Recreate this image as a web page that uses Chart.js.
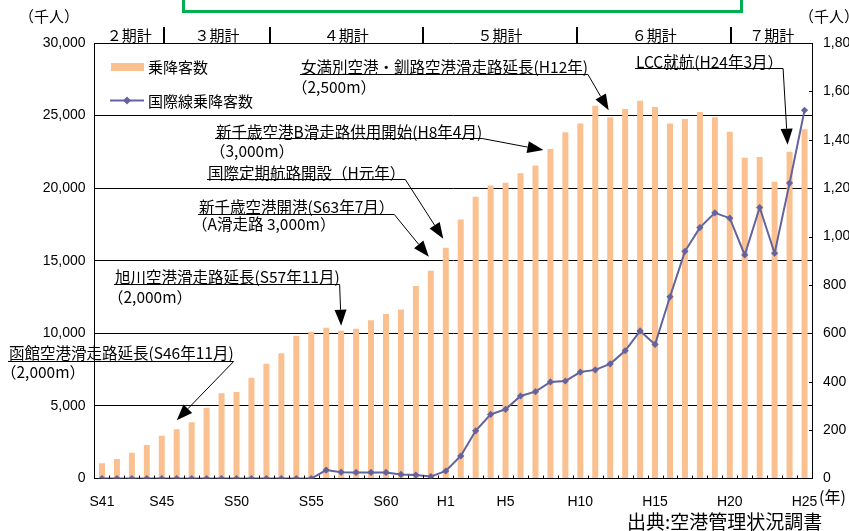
<!DOCTYPE html>
<html>
<head>
<meta charset="utf-8">
<script src="https://cdn.jsdelivr.net/npm/chart.js@4/dist/chart.umd.min.js"></script>
<style>
  html, body { margin: 0; padding: 0; background: #fff; overflow: hidden; }
  canvas { display: block; }
</style>
</head>
<body>
<canvas id="chart" width="849" height="531"></canvas>
<script>
// Fiscal years, Showa 41 (1966) to Heisei 25 (2013)
const years = [
  'S41','S42','S43','S44','S45','S46','S47','S48','S49','S50',
  'S51','S52','S53','S54','S55','S56','S57','S58','S59','S60',
  'S61','S62','S63',
  'H1','H2','H3','H4','H5','H6','H7','H8','H9','H10',
  'H11','H12','H13','H14','H15','H16','H17','H18','H19','H20',
  'H21','H22','H23','H24','H25'
];

// Year labels printed under the axis
const shownYears = ['S41','S45','S50','S55','S60','H1','H5','H10','H15','H20','H25'];

// Total passengers (thousand people), left axis
const passengers = [
  1050, 1340, 1780, 2310, 2950, 3390, 3870, 4880, 5870, 5960,
  6940, 7910, 8620, 9830, 10110, 10390, 10180, 10320, 10900, 11330,
  11650, 13260, 14310,
  15900, 17850, 19410, 20190, 20370, 21020, 21570, 22690, 23860, 24460,
  25670, 24880, 25450, 26020, 25590, 24460, 24760, 25250, 24880, 23880,
  22090, 22140, 20440, 22510, 24050
];

// International passengers (thousand people), right axis
const international = [
  0, 0, 0, 0, 0, 0, 0, 0, 0, 0,
  0, 0, 0, 0, 0, 35, 26, 25, 25, 25,
  17, 14, 8,
  31, 93, 197, 265, 286, 341, 359, 399, 403, 440,
  449, 474, 528, 610, 554, 751, 939, 1037, 1098, 1076,
  924, 1120, 931, 1221, 1522
];

// Development plan periods shown above the plot
const periodNames = ['２期計', '３期計', '４期計', '５期計', '６期計', '７期計'];

// Event notes with the year each arrow points at
const notes = [
  { title: '女満別空港・釧路空港滑走路延長(H12年)', sub: '（2,500m）', year: 'H12' },
  { title: 'LCC就航(H24年3月）', sub: null, year: 'H24' },
  { title: '新千歳空港B滑走路供用開始(H8年4月)', sub: '（3,000m）', year: 'H8' },
  { title: '国際定期航路開設（H元年）', sub: null, year: 'H1' },
  { title: '新千歳空港開港(S63年7月）', sub: '（A滑走路 3,000m）', year: 'S63' },
  { title: '旭川空港滑走路延長(S57年11月)', sub: '（2,000m）', year: 'S57' },
  { title: '函館空港滑走路延長(S46年11月)', sub: '（2,000m）', year: 'S46' }
];

// Placement of each note's text and arrow tip offset from the bar top
const noteLayout = [
  { x: 301, y: 67,    ulY: 74.5,  subX: 292, subY: 87,  dx: -1.5, gap: 7 },
  { x: 636, y: 62,    ulY: 68.5,  subX: 0,   subY: 0,   dx: -2,   gap: 7 },
  { x: 216, y: 132.5, ulY: 138.5, subX: 210, subY: 151, dx: -7,   gap: -1 },
  { x: 208, y: 173,   ulY: 179.5, subX: 0,   subY: 0,   dx: -2.5, gap: 9 },
  { x: 199, y: 207.5, ulY: 214.5, subX: 192, subY: 224, dx: -2,   gap: 14 },
  { x: 115, y: 277,   ulY: 284.5, subX: 108, subY: 297, dx: 0,    gap: 5 },
  { x: 9,   y: 353,   ulY: 361.5, subX: 1,   subY: 372, dx: 0,    gap: 9 }
];

const BAR = '#FAC08F';
const LINE = '#63639F';
const CJK = "'Noto Sans CJK JP', 'Noto Sans', sans-serif";
const NUM = "'Liberation Sans', Arial, sans-serif";

function drawArrow(ctx, x0, y0, x1, y1) {
  const ang = Math.atan2(y1 - y0, x1 - x0);
  const L = 16, W = 6;
  const bx = x1 - L * Math.cos(ang), by = y1 - L * Math.sin(ang);
  ctx.beginPath();
  ctx.moveTo(x0, y0);
  ctx.lineTo(bx, by);
  ctx.stroke();
  ctx.beginPath();
  ctx.moveTo(x1, y1);
  ctx.lineTo(bx + W * Math.sin(ang), by - W * Math.cos(ang));
  ctx.lineTo(bx - W * Math.sin(ang), by + W * Math.cos(ang));
  ctx.closePath();
  ctx.fill();
}

const decorations = {
  id: 'decorations',
  afterDraw(chart) {
    const ctx = chart.ctx;
    const area = chart.chartArea;
    const xs = chart.scales.x, ys = chart.scales.y, y1 = chart.scales.y1;
    ctx.save();

    // green frame at the top edge
    ctx.strokeStyle = '#00B050';
    ctx.lineWidth = 3;
    ctx.strokeRect(183.5, -10, 558, 21.5);

    // inner tick marks between categories
    ctx.strokeStyle = '#000';
    ctx.lineWidth = 1;
    ctx.beginPath();
    for (let i = 0; i < years.length - 1; i++) {
      const px = Math.round((xs.getPixelForValue(i) + xs.getPixelForValue(i + 1)) / 2) + 0.5;
      ctx.moveTo(px, area.bottom);
      ctx.lineTo(px, area.bottom - 3);
    }
    // inner tick marks on the right axis
    for (let v = 200; v < 1800; v += 200) {
      const py = Math.round(y1.getPixelForValue(v)) + 0.5;
      ctx.moveTo(area.right - 3, py);
      ctx.lineTo(area.right, py);
    }
    ctx.stroke();

    // period separators and labels above the plot
    const edges = [4.15, 11.25, 21.45, 31.8, 42.1].map(v => xs.getPixelForValue(v));
    ctx.lineWidth = 2;
    ctx.beginPath();
    edges.forEach(px => { ctx.moveTo(Math.round(px), 27); ctx.lineTo(Math.round(px), area.top); });
    ctx.stroke();
    const bounds = [area.left, ...edges, area.right];
    ctx.fillStyle = '#000';
    ctx.font = '15px ' + CJK;
    ctx.textAlign = 'center';
    ctx.textBaseline = 'middle';
    periodNames.forEach((name, i) => {
      ctx.fillText(name, (bounds[i] + bounds[i + 1]) / 2, 35);
    });

    // axis titles
    ctx.fillText('（千人）', 49, 16);
    ctx.fillText('（千人）', 829, 16);
    ctx.textAlign = 'left';
    ctx.font = '16px ' + CJK;
    ctx.fillText('(年)', 819, 497);
    ctx.font = '19px ' + CJK;
    ctx.fillText('出典:空港管理状況調書', 627, 522);

    // legend
    ctx.font = '15px ' + CJK;
    ctx.fillStyle = BAR;
    ctx.fillRect(111, 63, 33, 8);
    ctx.fillStyle = '#000';
    ctx.fillText(chart.data.datasets[1].label, 148, 67);
    ctx.strokeStyle = LINE;
    ctx.lineWidth = 2;
    ctx.beginPath();
    ctx.moveTo(110, 100.5);
    ctx.lineTo(144, 100.5);
    ctx.stroke();
    ctx.fillStyle = LINE;
    ctx.beginPath();
    ctx.moveTo(127, 96.5); ctx.lineTo(131, 100.5); ctx.lineTo(127, 104.5); ctx.lineTo(123, 100.5);
    ctx.closePath();
    ctx.fill();
    ctx.fillStyle = '#000';
    ctx.fillText(chart.data.datasets[0].label, 148, 101);

    // event notes with underlines and arrows
    ctx.strokeStyle = '#000';
    ctx.fillStyle = '#000';
    ctx.lineWidth = 1;
    notes.forEach((n, k) => {
      const L = noteLayout[k];
      ctx.font = '15.5px ' + CJK;
      ctx.fillText(n.title, L.x, L.y);
      const w = ctx.measureText(n.title).width;
      if (n.sub) ctx.fillText(n.sub, L.subX, L.subY);
      const endX = L.x + w;
      ctx.beginPath();
      ctx.moveTo(L.x - 1, L.ulY);
      ctx.lineTo(endX, L.ulY);
      ctx.stroke();
      const idx = years.indexOf(n.year);
      const tipX = xs.getPixelForValue(idx) + L.dx;
      const tipY = ys.getPixelForValue(passengers[idx]) - L.gap;
      drawArrow(ctx, endX, L.ulY, tipX, tipY);
    });

    ctx.restore();
  }
};

new Chart(document.getElementById('chart'), {
  type: 'bar',
  data: {
    labels: years,
    datasets: [
      {
        type: 'line',
        label: '国際線乗降客数',
        data: international,
        yAxisID: 'y1',
        borderColor: LINE,
        backgroundColor: LINE,
        borderWidth: 2,
        pointStyle: 'rectRot',
        pointRadius: 3.6,
        pointBorderWidth: 0,
        pointBackgroundColor: LINE,
        tension: 0,
        order: 0
      },
      {
        type: 'bar',
        label: '乗降客数',
        data: passengers,
        yAxisID: 'y',
        backgroundColor: BAR,
        barPercentage: 0.4,
        categoryPercentage: 1,
        order: 1
      }
    ]
  },
  options: {
    responsive: false,
    animation: false,
    devicePixelRatio: 1,
    layout: { padding: { top: 43, left: 0, right: 0, bottom: 0 } },
    plugins: { legend: { display: false }, tooltip: { enabled: false } },
    scales: {
      x: {
        offset: true,
        grid: { display: false, drawTicks: false },
        border: { display: true, color: '#000', width: 1 },
        ticks: {
          autoSkip: false, maxRotation: 0, minRotation: 0,
          color: '#000', font: { family: NUM, size: 14 }, padding: 15,
          callback(v, i) { return shownYears.includes(years[i]) ? years[i] : ''; }
        },
        afterFit(s) { s.height = 52.5; }
      },
      y: {
        position: 'left', min: 0, max: 30000,
        ticks: { stepSize: 5000, color: '#000', font: { family: NUM, size: 14 }, padding: 9 },
        grid: { color: '#000', lineWidth: 1, drawTicks: false },
        border: { display: true, color: '#000', width: 1 },
        afterFit(s) { s.width = 94.5; }
      },
      y1: {
        position: 'right', min: 0, max: 1800,
        ticks: { stepSize: 200, color: '#000', font: { family: NUM, size: 14 }, padding: 11 },
        grid: { display: false, drawTicks: false },
        border: { display: true, color: '#000', width: 1 },
        afterFit(s) { s.width = 37; }
      }
    }
  },
  plugins: [decorations]
});
</script>
</body>
</html>
